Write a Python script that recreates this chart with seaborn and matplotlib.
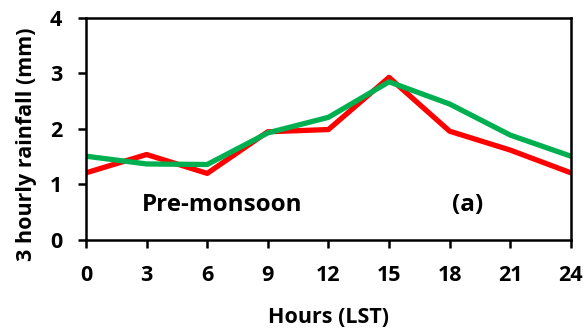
import matplotlib
matplotlib.use("Agg")
import matplotlib.pyplot as plt
import seaborn as sns
import pandas as pd

hours = [0, 3, 6, 9, 12, 15, 18, 21, 24]
red_series = [1.21, 1.54, 1.20, 1.95, 1.99, 2.93, 1.96, 1.62, 1.21]
green_series = [1.51, 1.37, 1.36, 1.93, 2.21, 2.85, 2.45, 1.89, 1.51]
y_ticks = [0, 1, 2, 3, 4]

sns.set_style("ticks")
plt.rcParams["font.family"] = ["Open Sans", "DejaVu Sans"]
plt.rcParams["font.weight"] = "bold"
plt.rcParams["text.color"] = "black"
plt.rcParams["axes.labelcolor"] = "black"
plt.rcParams["xtick.color"] = "black"
plt.rcParams["ytick.color"] = "black"
plt.rcParams["axes.edgecolor"] = "black"

df = pd.DataFrame({
    "hour": hours * 2,
    "rain": red_series + green_series,
    "series": ["red"] * len(hours) + ["green"] * len(hours),
})

fig = plt.figure(figsize=(5.87, 3.31), dpi=100)
ax = fig.add_axes([0.1465, 0.275, 0.826, 0.6706])

sns.lineplot(data=df, x="hour", y="rain", hue="series",
             palette={"red": "#FF0000", "green": "#00B050"},
             linewidth=3.8, legend=False, ax=ax)

ax.set_xlim(0, 24)
ax.set_ylim(0, 4)
ax.set_xticks(hours)
ax.set_yticks(y_ticks)
ax.tick_params(labelsize=15.5, width=1.8, length=6, direction="out")
ax.tick_params(axis="x", pad=12)
ax.tick_params(axis="y", pad=11)
for s in ax.spines.values():
    s.set_linewidth(1.8)
    s.set_visible(True)

ax.set_xlabel("Hours (LST)", fontsize=15.5, fontweight="bold")
ax.set_ylabel("3 hourly rainfall (mm)", fontsize=15.5, fontweight="bold")
ax.xaxis.set_label_coords(0.5, -0.3)
ax.yaxis.set_label_coords(-0.101, 0.43)

ax.text(6.75, 0.63, "Pre-monsoon", fontsize=17.5, fontweight="bold", va="center", ha="center")
ax.text(18.9, 0.63, "(a)", fontsize=17.5, fontweight="bold", va="center", ha="center")

plt.savefig("out.png", dpi=100)
plt.close()
